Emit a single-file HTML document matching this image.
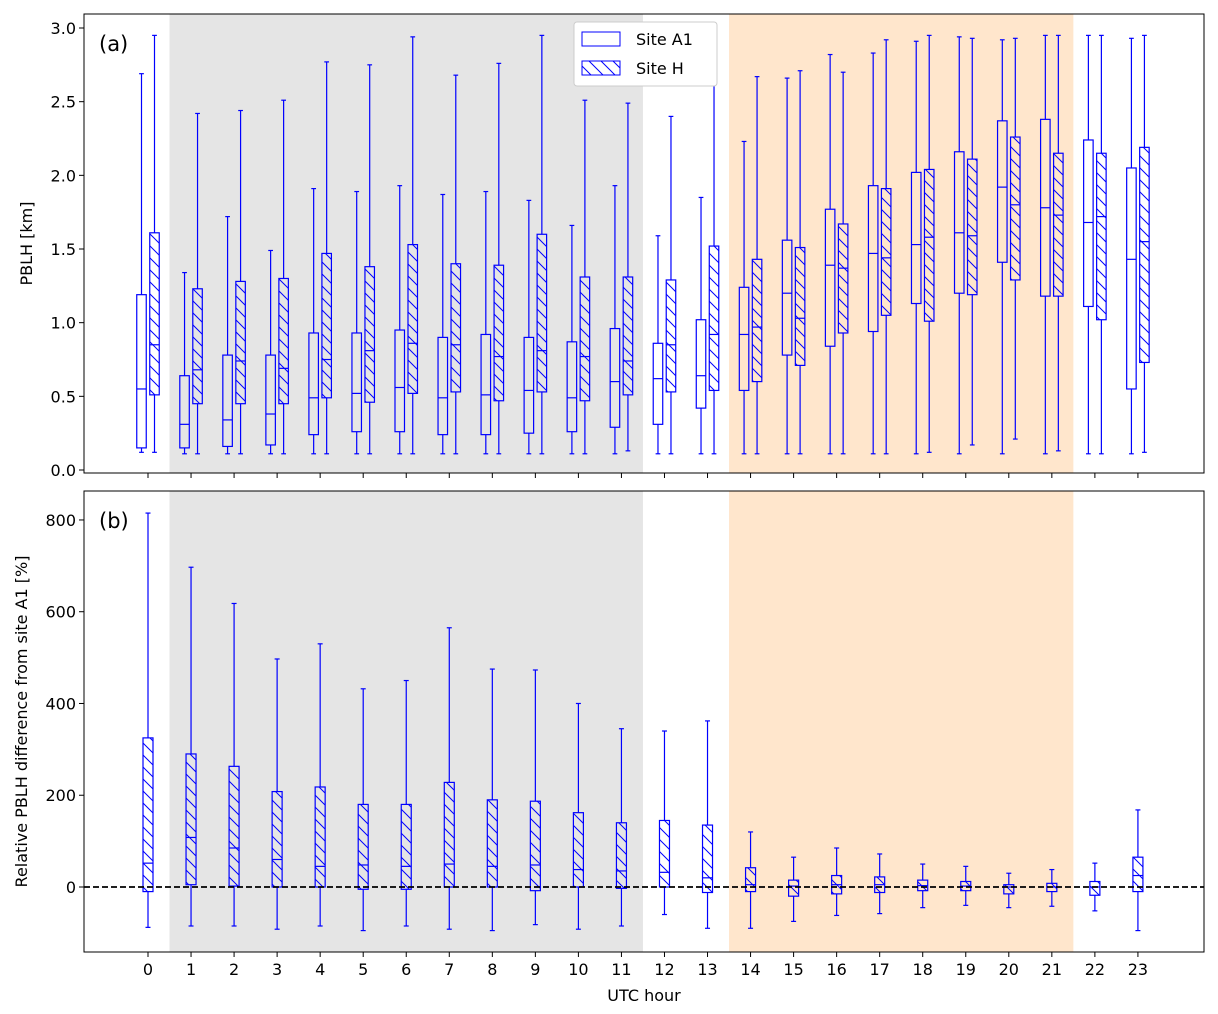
<!DOCTYPE html>
<html><head><meta charset="utf-8"><style>
body{margin:0;background:#fff}
svg{display:block;font-family:"DejaVu Sans","Liberation Sans",sans-serif}
</style></head><body>
<svg id="chart" width="1218" height="1014" xmlns="http://www.w3.org/2000/svg">
<defs>
<pattern id="hatch" patternUnits="userSpaceOnUse" width="12" height="12">
<path d="M-2,-2 L14,14 M-2,10 L2,14 M10,-2 L14,2" stroke="#0000ff" stroke-width="1"/>
</pattern>
</defs>
</svg>
<script>
const hours=[0,1,2,3,4,5,6,7,8,9,10,11,12,13,14,15,16,17,18,19,20,21,22,23];
const a1Lo=[0.12,0.11,0.11,0.11,0.11,0.11,0.11,0.11,0.11,0.11,0.11,0.11,0.11,0.11,0.11,0.11,0.11,0.11,0.11,0.11,0.11,0.11,0.11,0.11];
const a1Q1=[0.15,0.15,0.16,0.17,0.24,0.26,0.26,0.24,0.24,0.25,0.26,0.29,0.31,0.42,0.54,0.78,0.84,0.94,1.13,1.20,1.41,1.18,1.11,0.55];
const a1Med=[0.55,0.31,0.34,0.38,0.49,0.52,0.56,0.49,0.51,0.54,0.49,0.60,0.62,0.64,0.92,1.20,1.39,1.47,1.53,1.61,1.92,1.78,1.68,1.43];
const a1Q3=[1.19,0.64,0.78,0.78,0.93,0.93,0.95,0.90,0.92,0.90,0.87,0.96,0.86,1.02,1.24,1.56,1.77,1.93,2.02,2.16,2.37,2.38,2.24,2.05];
const a1Hi=[2.69,1.34,1.72,1.49,1.91,1.89,1.93,1.87,1.89,1.83,1.66,1.93,1.59,1.85,2.23,2.66,2.82,2.83,2.91,2.94,2.92,2.95,2.95,2.93];
const hLo=[0.12,0.11,0.11,0.11,0.11,0.11,0.11,0.11,0.11,0.11,0.11,0.13,0.11,0.11,0.11,0.11,0.11,0.11,0.12,0.17,0.21,0.13,0.11,0.12];
const hQ1=[0.51,0.45,0.45,0.45,0.49,0.46,0.52,0.53,0.47,0.53,0.47,0.51,0.53,0.54,0.60,0.71,0.93,1.05,1.01,1.19,1.29,1.18,1.02,0.73];
const hMed=[0.85,0.68,0.74,0.69,0.75,0.81,0.86,0.85,0.77,0.81,0.77,0.74,0.85,0.92,0.97,1.03,1.37,1.44,1.58,1.59,1.80,1.73,1.72,1.55];
const hQ3=[1.61,1.23,1.28,1.30,1.47,1.38,1.53,1.40,1.39,1.60,1.31,1.31,1.29,1.52,1.43,1.51,1.67,1.91,2.04,2.11,2.26,2.15,2.15,2.19];
const hHi=[2.95,2.42,2.44,2.51,2.77,2.75,2.94,2.68,2.76,2.95,2.51,2.49,2.40,2.86,2.67,2.71,2.70,2.92,2.95,2.93,2.93,2.95,2.95,2.95];
const dLo=[-88,-85,-85,-92,-85,-95,-85,-92,-95,-82,-92,-85,-60,-90,-90,-75,-62,-58,-45,-40,-45,-42,-52,-95];
const dQ1=[-10,5,2,0,0,-5,-5,0,0,-8,0,-3,0,-12,-10,-20,-15,-12,-8,-8,-15,-10,-18,-10];
const dMed=[52,108,85,60,45,48,45,50,45,48,38,35,32,20,5,2,5,5,3,2,0,0,0,25];
const dQ3=[325,290,263,208,218,180,180,228,190,187,162,140,145,135,42,15,25,22,15,12,5,8,12,65];
const dHi=[815,697,618,497,530,432,450,565,475,473,400,345,340,362,120,65,85,72,50,45,30,38,52,168];
const topTicks=[0,0.5,1,1.5,2,2.5,3];
const topTickLabels=["0.0","0.5","1.0","1.5","2.0","2.5","3.0"];
const botTicks=[0,200,400,600,800];

const NS="http://www.w3.org/2000/svg";
const svg=document.getElementById('chart');
function mk(tag,attrs,parent,text){const e=document.createElementNS(NS,tag);for(const k in attrs)e.setAttribute(k,attrs[k]);if(text!==undefined)e.textContent=text;(parent||svg).appendChild(e);return e;}
const X=h=>148+h*43.04;
const L=84,R=1204;
const T1=14,B1=473,Y1=v=>470-v*147.33;
const T2=491,B2=952,Y2=v=>887-v*0.4588;

function panel(T,B,name){
  let g=mk('g',{});
  let s1=mk('rect',{x:X(0.5),y:T,width:X(11.5)-X(0.5),height:B-T,fill:'#e5e5e5'},g);
  
  let s2=mk('rect',{x:X(13.5),y:T,width:X(21.5)-X(13.5),height:B-T,fill:'#ffe6cc'},g);
  
  return g;
}
function box(g,cx,w,lo,q1,md,q3,hi,Y,hatch,name){
  let bg=mk('g',{stroke:'#0000ff','stroke-width':1.2,fill:'none'},g);
  
  mk('line',{x1:cx,x2:cx,y1:Y(hi),y2:Y(q3)},bg);
  mk('line',{x1:cx,x2:cx,y1:Y(q1),y2:Y(lo)},bg);
  mk('line',{x1:cx-w/4,x2:cx+w/4,y1:Y(hi),y2:Y(hi)},bg);
  mk('line',{x1:cx-w/4,x2:cx+w/4,y1:Y(lo),y2:Y(lo)},bg);
  mk('rect',{x:cx-w/2,y:Y(q3),width:w,height:Math.max(0.5,Y(q1)-Y(q3)),fill:hatch?'url(#hatch)':'none'},bg);
  mk('line',{x1:cx-w/2,x2:cx+w/2,y1:Y(md),y2:Y(md)},bg);
}
function frame(T,B,name){
  let f=mk('rect',{x:L,y:T,width:R-L,height:B-T,fill:'none',stroke:'#000','stroke-width':1});
  
}
let g1=panel(T1,B1,'panel-a');
hours.forEach((h,i)=>{
  box(g1,X(h)-6.5,9.5,a1Lo[i],a1Q1[i],a1Med[i],a1Q3[i],a1Hi[i],Y1,false,'box-a1-h'+h);
  box(g1,X(h)+6.5,9.5,hLo[i],hQ1[i],hMed[i],hQ3[i],hHi[i],Y1,true,'box-h-h'+h);
});
frame(T1,B1,'panel-a-frame');
topTicks.forEach((t,i)=>{
  mk('line',{x1:L-5,x2:L,y1:Y1(t),y2:Y1(t),stroke:'#000'});
  let tx=mk('text',{x:L-8,y:Y1(t)+6,'text-anchor':'end','font-size':16},svg,topTickLabels[i]);
  
});
hours.forEach(h=>mk('line',{x1:X(h),x2:X(h),y1:B1,y2:B1+5,stroke:'#000'}));
let yl1=mk('text',{x:32,y:(T1+B1)/2,'text-anchor':'middle','font-size':16,transform:`rotate(-90 32 ${(T1+B1)/2})`},svg,'PBLH [km]');

let la=mk('text',{x:99,y:51,'font-size':21},svg,'(a)');

let lg=mk('g',{});
mk('rect',{x:574,y:22,width:143,height:64,rx:3,fill:'#fff',stroke:'#ccc'},lg);
let e1=mk('g',{},lg);
mk('rect',{x:582,y:32,width:38,height:14,fill:'none',stroke:'#0000ff'},e1);
mk('text',{x:636,y:45,'font-size':16},e1,'Site A1');
let e2=mk('g',{},lg);
mk('rect',{x:582,y:61,width:38,height:14,fill:'url(#hatch)',stroke:'#0000ff'},e2);
mk('text',{x:636,y:74,'font-size':16},e2,'Site H');
let g2=panel(T2,B2,'panel-b');
hours.forEach((h,i)=>box(g2,X(h),10,dLo[i],dQ1[i],dMed[i],dQ3[i],dHi[i],Y2,true,'box-diff-h'+h));
let zl=mk('line',{x1:L,x2:R,y1:Y2(0),y2:Y2(0),stroke:'#000','stroke-width':1.8,'stroke-dasharray':'6,3'});

frame(T2,B2,'panel-b-frame');
botTicks.forEach(t=>{
  mk('line',{x1:L-5,x2:L,y1:Y2(t),y2:Y2(t),stroke:'#000'});
  let tx=mk('text',{x:L-8,y:Y2(t)+6,'text-anchor':'end','font-size':16},svg,String(t));
  
});
hours.forEach(h=>{
  mk('line',{x1:X(h),x2:X(h),y1:B2,y2:B2+5,stroke:'#000'});
  let tx=mk('text',{x:X(h),y:B2+23,'text-anchor':'middle','font-size':16},svg,String(h));
  
});
let yl2=mk('text',{x:27,y:(T2+B2)/2,'text-anchor':'middle','font-size':16,transform:`rotate(-90 27 ${(T2+B2)/2})`},svg,'Relative PBLH difference from site A1 [%]');

let xl=mk('text',{x:644,y:1001,'text-anchor':'middle','font-size':16},svg,'UTC hour');

let lb=mk('text',{x:99,y:528,'font-size':21},svg,'(b)');

</script>
</body></html>
